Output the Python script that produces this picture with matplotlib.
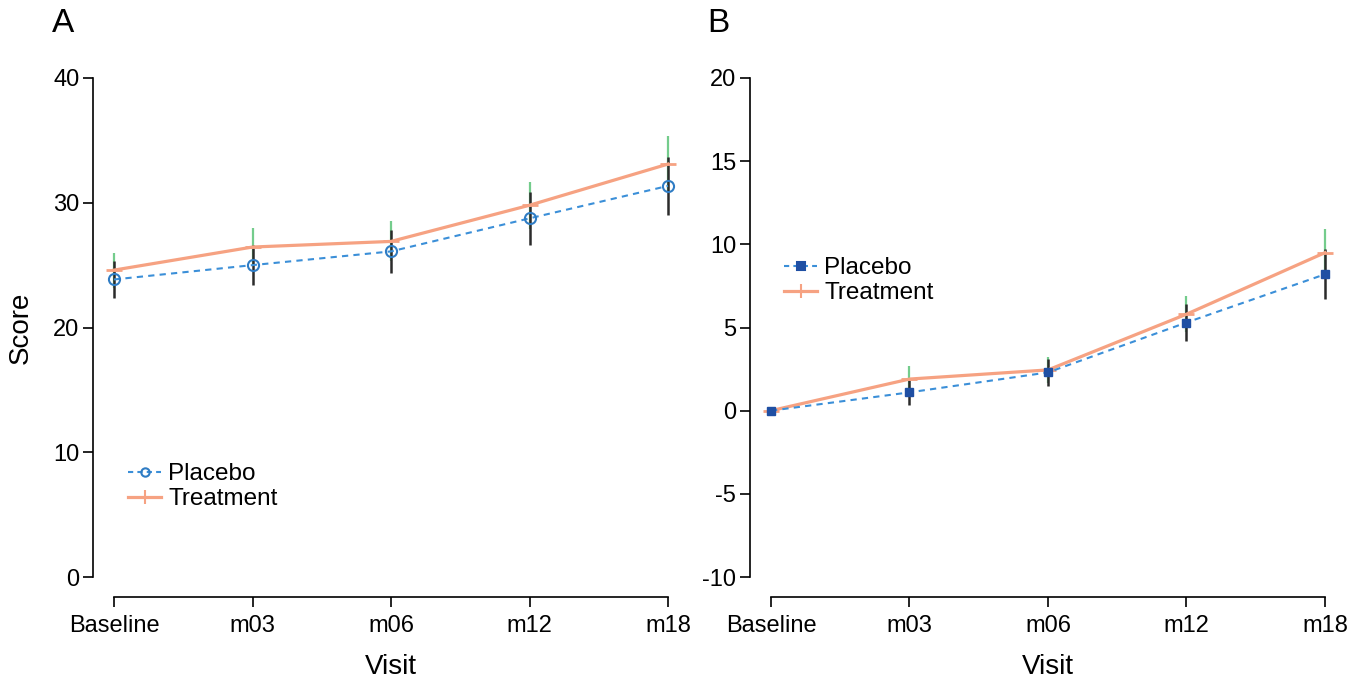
import numpy as np
import matplotlib
matplotlib.use("Agg")
import matplotlib.pyplot as plt
from matplotlib.lines import Line2D

plt.rcParams["font.family"] = ["Liberation Sans", "DejaVu Sans"]
plt.rcParams["axes.unicode_minus"] = False

# donnees
visits = ["Baseline", "m03", "m06", "m12", "m18"]

a_placebo = [23.85, 25.0, 26.1, 28.75, 31.35]
a_placebo_err = [1.45, 1.6, 1.7, 2.1, 2.35]
a_treat = [24.6, 26.45, 26.9, 29.8, 33.1]
a_treat_err = [1.4, 1.55, 1.6, 1.9, 2.25]

b_placebo = [0.0, 1.1, 2.3, 5.3, 8.2]
b_placebo_err = [0.15, 0.75, 0.8, 1.1, 1.5]
b_treat = [0.0, 1.9, 2.45, 5.8, 9.5]
b_treat_err = [0.15, 0.8, 0.8, 1.1, 1.4]

a_yticks = [0, 10, 20, 30, 40]
b_yticks = [-10, -5, 0, 5, 10, 15, 20]

C_TREAT = "#f6a282"
C_PLAC = "#3b8fd8"
C_GREEN = "#74cc8c"
C_BLACK = "#2b2b2b"
C_SQ = "#1f4fa3"

W, H = 1361, 678
fig = plt.figure(figsize=(W / 100, H / 100), dpi=100)


def px_axes(x0, x1, y_top, y_bot):
    return fig.add_axes([x0 / W, (H - y_bot) / H, (x1 - x0) / W, (y_bot - y_top) / H])


def panel(ax, plac, plac_err, treat, treat_err, yticks, square):
    x = np.arange(len(visits))
    # barres d'erreur : vert (traitement) sous noir (placebo)
    ax.errorbar(x, treat, yerr=treat_err, fmt="none", ecolor=C_GREEN,
                elinewidth=1.6, capsize=0, zorder=2, clip_on=False)
    ax.errorbar(x, plac, yerr=plac_err, fmt="none", ecolor=C_BLACK,
                elinewidth=1.8, capsize=0, zorder=3, clip_on=False)
    ax.plot(x, treat, "-", color=C_TREAT, lw=2.3, zorder=4, clip_on=False)
    ax.plot(x, treat, "_", color=C_TREAT, ms=12, mew=2, zorder=4, clip_on=False)
    if square:
        ax.plot(x, plac, "--", color=C_PLAC, lw=1.5, dashes=(3, 2.5), zorder=5,
                marker="s", ms=6, mfc=C_SQ, mec=C_SQ, clip_on=False)
    else:
        ax.plot(x, plac, "--", color=C_PLAC, lw=1.5, dashes=(3, 2.5), zorder=5,
                marker="o", ms=8, mfc="none", mec="#2f7cc4", mew=1.5, clip_on=False)

    ax.set_xlim(0, len(visits) - 1)
    ax.set_ylim(yticks[0], yticks[-1])
    ax.set_xticks(x)
    ax.set_xticklabels(visits)
    ax.set_yticks(yticks)
    ax.tick_params(labelsize=17, length=7, width=1.2, direction="out", pad=3)
    ax.tick_params(axis="x", pad=6)
    for s in ("top", "right"):
        ax.spines[s].set_visible(False)
    ax.spines["left"].set_position(("outward", 15))
    ax.spines["bottom"].set_position(("outward", 14.5))
    ax.spines["left"].set_linewidth(1.2)
    ax.spines["bottom"].set_linewidth(1.2)
    ax.set_xlabel("Visit", fontsize=20, labelpad=12)

    mk = Line2D([], [], color=C_PLAC, ls="--", dashes=(2.5, 2), lw=1.5,
                marker="s" if square else "o", ms=6 if square else 6,
                mfc=C_SQ if square else "none",
                mec=C_SQ if square else "#2f7cc4", mew=1.5)
    tr = Line2D([], [], color=C_TREAT, lw=2.3, marker="|", ms=10, mew=1.5)
    return mk, tr


axA = px_axes(114, 668, 78, 577)
hA = panel(axA, a_placebo, a_placebo_err, a_treat, a_treat_err, a_yticks, False)
axA.set_ylabel("Score", fontsize=20, labelpad=14)
axA.legend(hA, ["Placebo", "Treatment"], loc="upper left", frameon=False,
           fontsize=17.5, handlelength=1.35, handletextpad=0.3, labelspacing=0.12,
           borderpad=0, bbox_to_anchor=(116 / W, (H - 451) / H),
           bbox_transform=fig.transFigure)

axB = px_axes(771, 1325, 78, 577)
hB = panel(axB, b_placebo, b_placebo_err, b_treat, b_treat_err, b_yticks, True)
axB.legend(hB, ["Placebo", "Treatment"], loc="upper left", frameon=False,
           fontsize=17.5, handlelength=1.35, handletextpad=0.3, labelspacing=0.12,
           borderpad=0, bbox_to_anchor=(772 / W, (H - 245) / H),
           bbox_transform=fig.transFigure)

fig.text(52 / W, (H - 24) / H, "A", fontsize=24, va="center", ha="left")
fig.text(707 / W, (H - 24) / H, "B", fontsize=24, va="center", ha="left")

fig.savefig("out.png", dpi=100)
